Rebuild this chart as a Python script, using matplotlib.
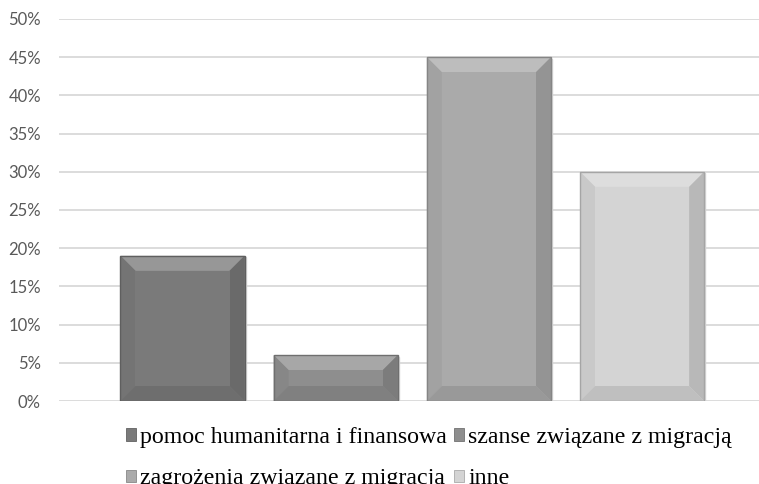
import matplotlib.pyplot as plt
from matplotlib.patches import Patch, Polygon, Rectangle
from matplotlib.font_manager import FontProperties
import matplotlib.colors as mcolors
import numpy as np

# data
categories = ['pomoc humanitarna i finansowa', 'szanse związane z migracją',
              'zagrożenia związane z migracją', 'inne']
values = [0.19, 0.06, 0.45, 0.30]
colors = ['#7a7a7a', '#8e8e8e', '#aaaaaa', '#d4d4d4']
yticks = [0.0, 0.05, 0.10, 0.15, 0.20, 0.25, 0.30, 0.35, 0.40, 0.45, 0.50]


def shade(c, f):
    r, g, b = mcolors.to_rgb(c)
    if f >= 0:
        return (r + (1 - r) * f, g + (1 - g) * f, b + (1 - b) * f)
    return (r * (1 + f), g * (1 + f), b * (1 + f))


fig = plt.figure(figsize=(7.59, 4.84), dpi=100)
ax = fig.add_axes([59 / 759, 1 - 401 / 484, 700 / 759, 382 / 484])

xs = np.arange(len(values))
width = 0.81
ax.set_xlim(-0.806, 3.763)
ax.set_ylim(0, 0.5)

# bevel size in data units (about 15 px)
px_x = 700 / (3.763 + 0.806)
px_y = 382 / 0.5
bx = 15 / px_x
by = 15 / px_y

bars = ax.bar(xs, values, width=width, color=colors, edgecolor='none', zorder=2)

for x, v, c in zip(xs, values, colors):
    x0, x1 = x - width / 2, x + width / 2
    ix0, ix1 = x0 + bx, x1 - bx
    iy0, iy1 = by, v - by
    # soft shadow
    ax.add_patch(Rectangle((x0 + 0.008, -0.002), width, v, color='#d6d6d6', zorder=1))
    faces = [
        ([(x0, v), (x1, v), (ix1, iy1), (ix0, iy1)], shade(c, 0.22)),   # top
        ([(x0, 0), (x0, v), (ix0, iy1), (ix0, iy0)], shade(c, -0.05)),  # left
        ([(x1, 0), (x1, v), (ix1, iy1), (ix1, iy0)], shade(c, -0.13)),  # right
        ([(x0, 0), (x1, 0), (ix1, iy0), (ix0, iy0)], shade(c, -0.10)),  # bottom
    ]
    for pts, fc in faces:
        ax.add_patch(Polygon(pts, closed=True, facecolor=fc, edgecolor='none', zorder=3))
    ax.add_patch(Rectangle((ix0, iy0), ix1 - ix0, iy1 - iy0, facecolor=c,
                           edgecolor='none', zorder=3))
    ax.add_patch(Rectangle((x0, 0), width, v, fill=False,
                           edgecolor=shade(c, -0.22), linewidth=1.0, zorder=4))

ax.set_yticks(yticks)
ax.set_yticklabels([f'{int(round(t * 100))}%' for t in yticks],
                   fontfamily='Lato', fontsize=12, color='#595959')
ax.set_xticks([])
ax.tick_params(axis='y', length=0, pad=13)
ax.grid(axis='y', color='#d9d9d9', linewidth=1.3, zorder=0)
ax.set_axisbelow(True)
for s in ax.spines.values():
    s.set_visible(False)

handles = [Patch(facecolor=c, edgecolor=shade(c, -0.2), linewidth=0.6) for c in colors]
order = [0, 2, 1, 3]
serif = FontProperties(family=['Liberation Serif', 'DejaVu Serif'], size=17.2)
fig.legend([handles[i] for i in order], [categories[i] for i in order],
           loc='upper left', bbox_to_anchor=(126 / 759, 1 - 427 / 484), ncol=2,
           frameon=False, prop=serif,
           handlelength=0.42, handleheight=0.42, handletextpad=0.17,
           columnspacing=0.3, labelspacing=0.85, borderaxespad=0, borderpad=0)

fig.savefig('out.png', dpi=100)
